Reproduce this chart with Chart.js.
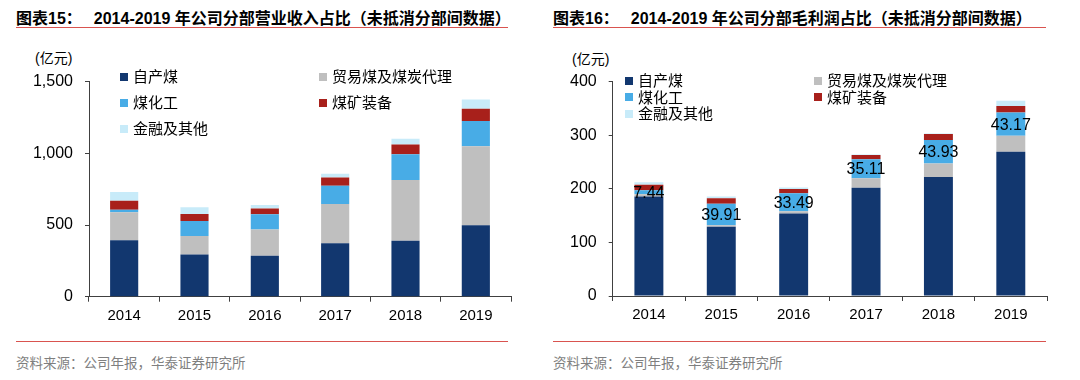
<!DOCTYPE html>
<html><head><meta charset="utf-8">
<script src="https://cdn.jsdelivr.net/npm/chart.js@4.4.1/dist/chart.umd.min.js"></script>
<style>
html,body{margin:0;padding:0;background:#fff;}
body{width:1080px;height:380px;position:relative;overflow:hidden;font-family:"Liberation Sans","Noto Sans CJK SC",sans-serif;}
.title{position:absolute;top:5px;font-weight:bold;font-size:16px;color:#000;white-space:nowrap;font-family:"Liberation Sans","Noto Sans CJK SC",sans-serif;}
.title .n{margin-right:12px;}
.rline{position:absolute;height:1px;background:#d9534f;}
.src{position:absolute;top:352px;font-size:13.5px;color:#7f7f7f;font-family:"Noto Sans CJK SC",sans-serif;white-space:nowrap;}
.unit{position:absolute;font-size:14px;color:#000;font-family:"Liberation Sans","Noto Sans CJK SC",sans-serif;}
.cw{position:absolute;top:60px;width:540px;height:270px;}
.lg{position:absolute;font-size:15px;font-family:"Noto Sans CJK SC",sans-serif;color:#000;white-space:nowrap;line-height:1;}
.lg i{display:inline-block;width:8px;height:8px;margin-right:5px;vertical-align:middle;position:relative;top:-1px;}
</style></head><body>
<div class="title" style="left:16px"><span class="n">图表15：</span>2014-2019 年公司分部营业收入占比（未抵消分部间数据）</div>
<div class="title" style="left:553px"><span class="n">图表16：</span>2014-2019 年公司分部毛利润占比（未抵消分部间数据）</div>
<div class="rline" style="left:16px;width:492px;top:27px"></div>
<div class="rline" style="left:553px;width:493px;top:27px"></div>
<div class="rline" style="left:16px;width:492px;top:341px"></div>
<div class="rline" style="left:553px;width:493px;top:341px"></div>
<div class="src" style="left:16px">资料来源：公司年报，华泰证券研究所</div>
<div class="src" style="left:553px">资料来源：公司年报，华泰证券研究所</div>
<div class="unit" style="left:35px;top:47px">(亿元)</div>
<div class="unit" style="left:572px;top:48px">(亿元)</div>
<div class="cw" style="left:0"><canvas id="c1" width="540" height="270"></canvas></div>
<div class="cw" style="left:540px"><canvas id="c2" width="540" height="270"></canvas></div>
<div id="lg1"></div><div id="lg2"></div>
<script>
const years = ['2014','2015','2016','2017','2018','2019'];
const seriesNames = ['自产煤','贸易煤及煤炭代理','煤化工','煤矿装备','金融及其他'];
const seriesColors = ['#12376f','#bfbfbf','#48ace6','#a8201b','#c8ebf9'];

// 营业收入 (亿元)
const revSelf  = [393, 294, 285, 373, 391, 498];
const revTrade = [196, 130, 184, 273, 422, 552];
const revChem  = [17, 104, 106, 128, 180, 176];
const revEquip = [63, 49, 40, 57, 69, 85];
const revFin   = [61, 47, 25, 27, 40, 65];

// 毛利润 (亿元)
const profSelf  = [185.5, 129, 154, 201.8, 221.8, 269];
const profTrade = [4.5, 3, 4, 18, 25.5, 30];
const profChem  = [7.44, 39.91, 33.49, 35.11, 43.93, 43.17];
const profEquip = [10, 10.5, 8, 8, 11, 12.5];
const profFin   = [5, 3, 3, 1, 1, 9.5];

const revTicks = [0, 500, 1000, 1500];
const profTicks = [0, 100, 200, 300, 400];

function mkDatasets(arrs){
  return arrs.map((d,i)=>({label:seriesNames[i],data:d,backgroundColor:seriesColors[i],
    borderWidth:0,barPercentage:0.4,categoryPercentage:1}));
}
const axisColor = '#404040';
function mkOptions(maxV, step, yWidth, xHeight, padR, padT){
  return {
    responsive:false, animation:false,
    layout:{padding:{left:0,right:padR,top:padT,bottom:0}},
    plugins:{legend:{display:false},tooltip:{enabled:false}},
    scales:{
      x:{stacked:true,
        grid:{display:true,drawOnChartArea:false,drawTicks:true,tickLength:5,color:axisColor,offset:true},
        border:{display:true,color:axisColor,width:1},
        ticks:{color:'#000',font:{family:'Liberation Sans',size:15},padding:5},
        afterFit:s=>{s.height=xHeight;}},
      y:{stacked:true,min:0,max:maxV,
        grid:{display:true,drawOnChartArea:false,drawTicks:true,tickLength:4,color:axisColor},
        border:{display:true,color:axisColor,width:1},
        ticks:{stepSize:step,color:'#000',font:{family:'Liberation Sans',size:16},padding:12,
          callback:v=>v.toLocaleString('en-US')},
        afterFit:s=>{s.width=yWidth;}}
    }
  };
}

new Chart(document.getElementById('c1'),{
  type:'bar',
  data:{labels:years,datasets:mkDatasets([revSelf,revTrade,revChem,revEquip,revFin])},
  options:mkOptions(revTicks[revTicks.length-1],500,89,33.3,29,14)
});

const chemLabelPlugin = {
  id:'chemLabel',
  afterDatasetsDraw(chart){
    const meta = chart.getDatasetMeta(2);
    const ctx = chart.ctx;
    ctx.save();
    ctx.font = '16px "Liberation Sans"';
    ctx.fillStyle = '#000';
    ctx.textAlign = 'center';
    ctx.textBaseline = 'middle';
    meta.data.forEach((el,i)=>{
      const v = chart.data.datasets[2].data[i];
      ctx.fillText(v.toFixed(2), el.x, (el.y+el.base)/2+1);
    });
    ctx.restore();
  }
};

new Chart(document.getElementById('c2'),{
  type:'bar',
  data:{labels:years,datasets:mkDatasets([profSelf,profTrade,profChem,profEquip,profFin])},
  options:mkOptions(profTicks[profTicks.length-1],100,72.7,34,33,16),
  plugins:[chemLabelPlugin]
});

function buildLegend(id, pos){
  const root = document.getElementById(id);
  pos.forEach((p,i)=>{
    const d = document.createElement('div');
    d.className='lg';
    d.style.left=p[0]+'px'; d.style.top=p[1]+'px';
    d.innerHTML='<i style="background:'+seriesColors[i]+'"></i>'+seriesNames[i];
    root.appendChild(d);
  });
}
buildLegend('lg1',[[120,68],[319,68],[120,94],[319,94],[120,120]]);
buildLegend('lg2',[[625,72],[814,72],[625,88.5],[814,88.5],[625,105]]);
</script>
</body></html>
